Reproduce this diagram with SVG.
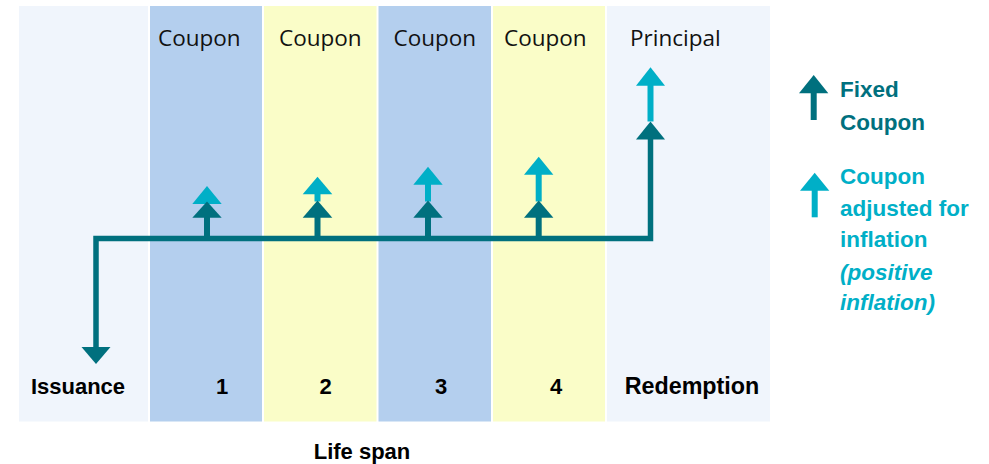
<svg xmlns="http://www.w3.org/2000/svg" width="989" height="464" viewBox="0 0 989 464">
<style>
.pale{fill:#F0F5FC}
.blue{fill:#B4CFEE}
.yel{fill:#FAFDC8}
.top{font-family:"Open Sans","Liberation Sans",sans-serif;font-size:22.5px;fill:#111}
.lbl{font-family:"Liberation Sans",Arial,sans-serif;font-size:22px;font-weight:bold;fill:#000}
.dk{fill:#00707E}
.lt{fill:#00AFC7}
.ldk{font-family:"Liberation Sans",Arial,sans-serif;font-size:22.5px;font-weight:bold;fill:#00707E}
.llt{font-family:"Liberation Sans",Arial,sans-serif;font-size:22.5px;font-weight:bold;fill:#00AFC7}
.line{fill:none;stroke:#00707E;stroke-width:5.5;stroke-linejoin:miter}
</style>
<rect width="989" height="464" fill="#fff"/>
<g id="issuance">
<rect class="pale" x="19" y="6" width="129" height="415.5"/>
<text class="lbl" x="78" y="394" text-anchor="middle">Issuance</text>
</g>
<g id="period1">
<rect class="blue" x="150" y="6" width="112" height="415.5"/>
<text class="top" x="158" y="46">Coupon</text>
<text class="lbl" x="222" y="394" text-anchor="middle">1</text>
</g>
<g id="period2">
<rect class="yel" x="264" y="6" width="112.5" height="415.5"/>
<text class="top" x="279" y="46">Coupon</text>
<text class="lbl" x="325.5" y="394" text-anchor="middle">2</text>
</g>
<g id="period3">
<rect class="blue" x="378.5" y="6" width="112.5" height="415.5"/>
<text class="top" x="393.5" y="46">Coupon</text>
<text class="lbl" x="441" y="394" text-anchor="middle">3</text>
</g>
<g id="period4">
<rect class="yel" x="493" y="6" width="112" height="415.5"/>
<text class="top" x="504" y="46">Coupon</text>
<text class="lbl" x="556" y="394" text-anchor="middle">4</text>
</g>
<g id="redemption">
<rect class="pale" x="607" y="6" width="163" height="415.5"/>
<text class="top" x="630" y="46">Principal</text>
<text class="lbl" x="692" y="394" text-anchor="middle" style="font-size:23.3px">Redemption</text>
</g>
<g id="lifespan">
<text class="lbl" x="362" y="459" text-anchor="middle">Life span</text>
</g>
<g id="connectors">
<polyline class="line" points="96,348 96,238.5 650.5,238.5 650.5,138"/>
<polygon class="dk" points="81.5,347 110.5,347 96,364"/>
<polygon class="dk" points="636,139.5 665,139.5 650.5,121.5"/>
<rect class="lt" x="647.5" y="84" width="6" height="37.5"/>
<polygon class="lt" points="636,85.7 665,85.7 650.5,67.3"/>
<!-- coupon 1 -->
<polygon class="lt" points="192.3,204 221.7,204 207,186"/>
<rect class="dk" x="204" y="216" width="6" height="22"/>
<polygon class="dk" points="192.3,217.7 221.7,217.7 207,201.5"/>
<!-- coupon 2 -->
<rect class="lt" x="314.5" y="193" width="6" height="8.5"/>
<polygon class="lt" points="302.7,194.3 332.3,194.3 317.5,176.7"/>
<rect class="dk" x="314.5" y="216" width="6" height="22"/>
<polygon class="dk" points="302.7,217.7 332.3,217.7 317.5,200.5"/>
<!-- coupon 3 -->
<rect class="lt" x="425" y="183" width="6" height="18.5"/>
<polygon class="lt" points="413.3,184.7 442.7,184.7 428,166.7"/>
<rect class="dk" x="425" y="216" width="6" height="22"/>
<polygon class="dk" points="413.3,217.7 442.7,217.7 428,200.5"/>
<!-- coupon 4 -->
<rect class="lt" x="535.7" y="173" width="6" height="28.5"/>
<polygon class="lt" points="524,174.7 553.4,174.7 538.7,156.7"/>
<rect class="dk" x="535.7" y="216" width="6" height="22"/>
<polygon class="dk" points="524,217.7 553.4,217.7 538.7,200.5"/>
</g>
<g id="legend-fixed">
<rect class="dk" x="810.7" y="92" width="6" height="28"/>
<polygon class="dk" points="799,93.3 828.3,93.3 813.7,75"/>
<text class="ldk" x="840" y="97">Fixed</text>
<text class="ldk" x="840" y="130">Coupon</text>
</g>
<g id="legend-inflation">
<rect class="lt" x="811.7" y="189" width="6" height="28.3"/>
<polygon class="lt" points="800,190.7 829.3,190.7 814.7,172.7"/>
<text class="llt" x="840" y="184">Coupon</text>
<text class="llt" x="840" y="216">adjusted for</text>
<text class="llt" x="840" y="247">inflation</text>
<text class="llt" x="840" y="280" font-style="italic">(positive</text>
<text class="llt" x="840" y="310" font-style="italic">inflation)</text>
</g>
</svg>
